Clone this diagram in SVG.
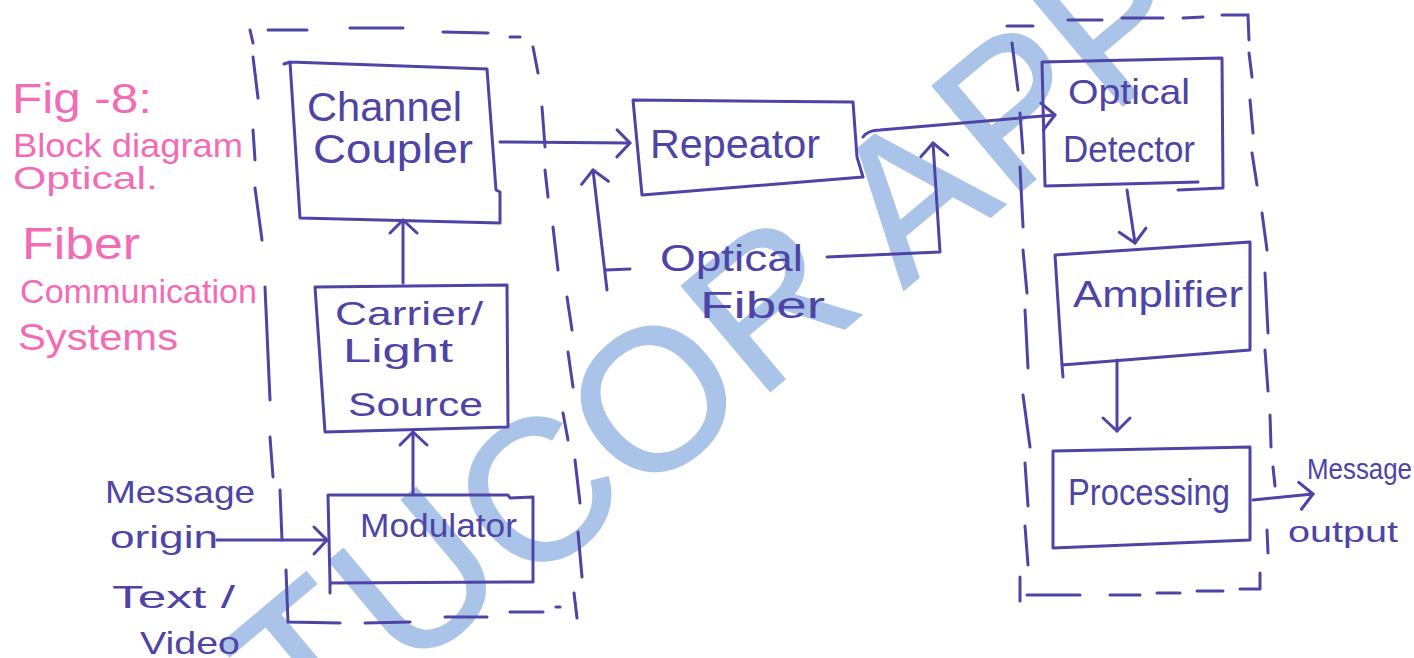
<svg xmlns="http://www.w3.org/2000/svg" width="1414" height="658" viewBox="0 0 1414 658">
  <style>
    .ink { fill: none; stroke: #4d44a6; stroke-width: 3; stroke-linecap: round; stroke-linejoin: round; }
    .frame { fill: none; stroke: #4d44a6; stroke-width: 3; stroke-linecap: round; }
    .label { font-family: "Liberation Sans", Arial, sans-serif; fill: #4d44a6; }
    .title { font-family: "Liberation Sans", Arial, sans-serif; fill: #f46bb5; }
    .mark { font-family: "Liberation Sans", Arial, sans-serif; font-size: 200px; fill: #aac4e9; stroke: #aac4e9; stroke-width: 2; text-anchor: middle; }
  </style>
  <defs>
    <marker id="arrow" markerUnits="userSpaceOnUse" markerWidth="40" markerHeight="40" viewBox="-20 -20 40 40" refX="0" refY="0" orient="auto" overflow="visible">
      <path d="M-13,-13 L0,0 L-13,14" fill="none" stroke="#4d44a6" stroke-width="3" stroke-linecap="round" stroke-linejoin="round"/>
    </marker>
  </defs>

  <rect width="1414" height="658" fill="#ffffff"/>

  <!-- background watermark, set letter by letter along a tilted line -->
  <g id="watermark" transform="translate(537,493) rotate(-40)">
    <text class="mark" x="-284" y="50">T</text>
    <text class="mark" x="-146" y="56">U</text>
    <text class="mark" x="0" y="68">C</text>
    <text class="mark" x="150" y="72">O</text>
    <text class="mark" x="300" y="72">R</text>
    <text class="mark" x="478" y="80">A</text>
    <text class="mark" x="615" y="80">P</text>
    <text class="mark" x="748" y="80">P</text>
  </g>

  <!-- figure caption -->
  <g id="caption">
    <text class="title" x="12" y="113" font-size="42" textLength="140" lengthAdjust="spacingAndGlyphs">Fig -8:</text>
    <text class="title" x="13" y="157" font-size="33" textLength="230" lengthAdjust="spacingAndGlyphs">Block diagram</text>
    <text class="title" x="13" y="189" font-size="31" textLength="145" lengthAdjust="spacingAndGlyphs">Optical.</text>
    <text class="title" x="22" y="259" font-size="44" textLength="118" lengthAdjust="spacingAndGlyphs">Fiber</text>
    <text class="title" x="20" y="303" font-size="34" textLength="237" lengthAdjust="spacingAndGlyphs">Communication</text>
    <text class="title" x="18" y="350" font-size="36" textLength="160" lengthAdjust="spacingAndGlyphs">Systems</text>
  </g>

  <!-- transmitter frame (dashed) -->
  <g id="transmitter-frame">
    <path class="frame" d="M250,30 L253,43 M268,30 L307,30 M350,28 L403,28 M443,32 L488,33 M510,37 L520,37
      M253,57 L258,98 M253,130 L255,160 M255,188 L262,240 M265,287 L270,400 M270,437 L273,477 M280,490 L282,540
      M286,570 L288,622 L340,623 M365,623 L410,622 M445,617 L487,617 M510,612 L543,612 M556,607 L560,607
      M533,47 L538,73 M542,107 L545,147 M545,170 L548,197 M553,227 L558,270 M567,297 L572,330 M568,352 L573,387
      M563,413 L568,440 M575,460 L580,503 M578,532 L582,577 M574,593 L577,618"/>
  </g>

  <!-- receiver frame (dashed) -->
  <g id="receiver-frame">
    <path class="frame" d="M1007,26 L1033,26 M1068,20 L1102,20 M1122,18 L1163,18 M1183,18 L1203,17 M1222,15 L1248,15 L1249,40
      M1249,53 L1252,77 M1250,100 L1253,133 M1252,153 L1257,185 M1262,213 L1267,250 M1265,273 L1268,333 M1265,350 L1268,391
      M1270,415 L1271,447 M1273,467 L1275,486 M1267,530 L1268,553 M1260,573 L1260,589
      M1012,43 L1018,90 M1020,113 L1023,153 M1020,167 L1023,227 M1023,250 L1027,293 M1025,310 L1028,368
      M1023,395 L1030,447 M1025,463 L1028,506 M1025,526 L1028,565 M1020,577 L1020,601
      M1027,595 L1080,595 M1110,595 L1140,595 M1157,593 L1180,593 M1197,591 L1223,591 M1240,589 L1260,589"/>
  </g>

  <!-- transmitter blocks -->
  <g id="channel-coupler">
    <path class="ink" d="M290,62 L487,69 L496,190 L500,192 L500,223 L300,218 Z M284,64 L290,62"/>
    <text class="label" x="307" y="121" font-size="40" textLength="155" lengthAdjust="spacingAndGlyphs">Channel</text>
    <text class="label" x="313" y="163" font-size="40" textLength="160" lengthAdjust="spacingAndGlyphs">Coupler</text>
  </g>

  <g id="light-source">
    <path class="ink" d="M315,287 L507,285 L508,427 L325,432 Z"/>
    <text class="label" x="335" y="325" font-size="34" textLength="148" lengthAdjust="spacingAndGlyphs">Carrier/</text>
    <text class="label" x="343" y="362" font-size="34" textLength="110" lengthAdjust="spacingAndGlyphs">Light</text>
    <text class="label" x="348" y="416" font-size="34" textLength="135" lengthAdjust="spacingAndGlyphs">Source</text>
  </g>

  <g id="modulator">
    <path class="ink" d="M328,495 L508,495 L510,498 L533,497 L533,582 L330,583 Z M330,583 L330,593"/>
    <text class="label" x="360" y="537" font-size="34" textLength="157" lengthAdjust="spacingAndGlyphs">Modulator</text>
  </g>

  <g id="message-origin">
    <text class="label" x="105" y="503" font-size="32" textLength="150" lengthAdjust="spacingAndGlyphs">Message</text>
    <text class="label" x="110" y="548" font-size="32" textLength="108" lengthAdjust="spacingAndGlyphs">origin</text>
    <text class="label" x="112" y="608" font-size="32" textLength="123" lengthAdjust="spacingAndGlyphs">Text /</text>
    <text class="label" x="140" y="654" font-size="32" textLength="100" lengthAdjust="spacingAndGlyphs">Video</text>
  </g>

  <!-- link blocks -->
  <g id="repeater">
    <path class="ink" d="M633,100 L853,102 L857,157 L863,177 L642,195 Z"/>
    <text class="label" x="650" y="158" font-size="40" textLength="170" lengthAdjust="spacingAndGlyphs">Repeator</text>
  </g>

  <g id="optical-fiber">
    <text class="label" x="660" y="271" font-size="36" textLength="143" lengthAdjust="spacingAndGlyphs">Optical</text>
    <text class="label" x="700" y="318" font-size="36" textLength="125" lengthAdjust="spacingAndGlyphs">Fiber</text>
  </g>

  <!-- receiver blocks -->
  <g id="optical-detector">
    <path class="ink" d="M1198,182 L1045,186 L1042,62 L1222,58 L1223,188 L1178,190"/>
    <text class="label" x="1068" y="104" font-size="35" textLength="122" lengthAdjust="spacingAndGlyphs">Optical</text>
    <text class="label" x="1063" y="162" font-size="36" textLength="132" lengthAdjust="spacingAndGlyphs">Detector</text>
  </g>

  <g id="amplifier">
    <path class="ink" d="M1055,255 L1250,242 L1250,350 L1062,365 Z M1062,365 L1063,377"/>
    <text class="label" x="1073" y="307" font-size="36" textLength="170" lengthAdjust="spacingAndGlyphs">Amplifier</text>
  </g>

  <g id="processing">
    <path class="ink" d="M1053,451 L1250,447 L1250,540 L1053,548 Z"/>
    <text class="label" x="1068" y="505" font-size="36" textLength="162" lengthAdjust="spacingAndGlyphs">Processing</text>
  </g>

  <g id="message-output">
    <text class="label" x="1307" y="479" font-size="30" textLength="105" lengthAdjust="spacingAndGlyphs">Message</text>
    <text class="label" x="1288" y="542" font-size="30" textLength="110" lengthAdjust="spacingAndGlyphs">output</text>
  </g>

  <!-- signal path -->
  <g id="connectors">
    <path class="ink" d="M217,540 L327,540" marker-end="url(#arrow)"/>
    <path class="ink" d="M413,493 L413,432" marker-end="url(#arrow)"/>
    <path class="ink" d="M403,283 L403,220" marker-end="url(#arrow)"/>
    <path class="ink" d="M500,142 L630,143" marker-end="url(#arrow)"/>
    <path class="ink" d="M863,137 Q868,130 880,130 L1055,115" marker-end="url(#arrow)"/>
    <path class="ink" d="M630,269 L606,270 M607,290 L593,170" marker-end="url(#arrow)"/>
    <path class="ink" d="M827,257 L940,252 L933,143" marker-end="url(#arrow)"/>
    <path class="ink" d="M1127,190 L1135,243" marker-end="url(#arrow)"/>
    <path class="ink" d="M1117,360 L1117,431" marker-end="url(#arrow)"/>
    <path class="ink" d="M1253,500 L1313,494" marker-end="url(#arrow)"/>
  </g>
</svg>
